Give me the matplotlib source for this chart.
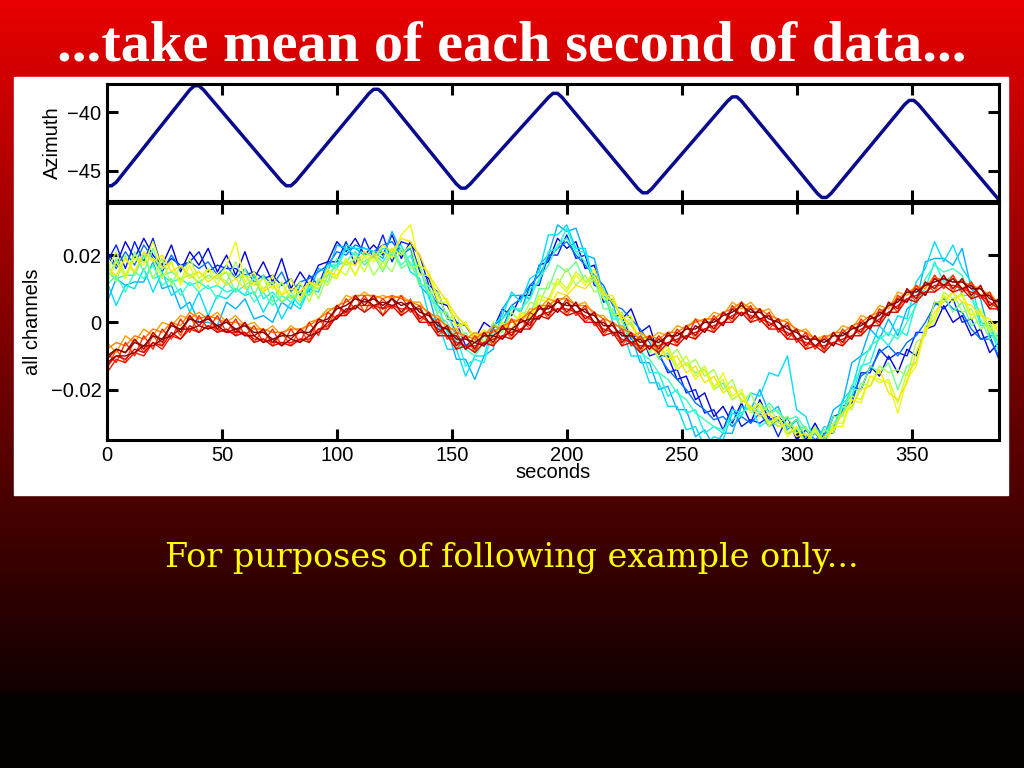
import numpy as np
import matplotlib
matplotlib.use('Agg')
import matplotlib.pyplot as plt
from matplotlib.colors import LinearSegmentedColormap

# azimuth sweep (degrees) at its turning points
az_t = [0, 2, 4,
        36, 38, 40, 42,
        76, 78, 80, 82,
        114, 116, 118, 120,
        152, 154, 156, 158,
        192, 194, 196, 198,
        231, 233, 235, 237,
        270, 272, 274, 276,
        309, 311, 313, 315,
        347, 349, 351, 353,
        388]
az_v = [-46.3, -46.3, -46.0,
        -38.1, -37.75, -37.75, -38.1,
        -45.95, -46.3, -46.3, -45.95,
        -38.4, -38.05, -38.05, -38.4,
        -46.15, -46.5, -46.5, -46.15,
        -38.75, -38.4, -38.4, -38.75,
        -46.55, -46.9, -46.9, -46.55,
        -39.05, -38.7, -38.7, -39.05,
        -46.95, -47.3, -47.3, -46.95,
        -39.35, -39.0, -39.0, -39.35,
        -47.5]

# channel time base: one sample every 4 s, 0..388
t_ch = np.arange(0, 389, 4)

# channel values in units of 1e-3, blue .. yellow group
ch_a1 = [21, 17, 24, 19, 25, 20, 17, 23, 15, 21,
         17, 22, 15, 20, 14, 21, 13, 18, 12, 19,
         10, 15, 11, 17, 18, 24, 21, 25, 20, 23,
         20, 26, 19, 24, 15, 13, 6, 5, 0, -1,
         -5, 0, -2, 4, 2, 8, 8, 17, 18, 25,
         22, 24, 16, 17, 6, 7, 1, 4, -3, -1,
         -10, -10, -17, -16, -23, -21, -28, -25, -30, -24,
         -30, -23, -29, -28, -31, -29, -35, -30, -35, -28,
         -27, -19, -20, -13, -16, -10, -15, -8, -10, -2,
         -1, 5, 0, 2, -4, -2, -9, -6]
ch_a2 = [18, 23, 16, 24, 18, 25, 16, 19, 17, 18,
         21, 15, 17, 16, 16, 14, 15, 13, 14, 11,
         13, 8, 14, 11, 18, 18, 24, 17, 25, 19,
         26, 18, 24, 23, 20, 11, 9, 1, 0, -7,
         -5, -7, -1, -2, 5, 3, 11, 11, 20, 20,
         26, 19, 20, 11, 10, 2, 2, -5, -3, -10,
         -9, -15, -14, -21, -20, -27, -26, -32, -25, -31,
         -29, -30, -28, -34, -28, -35, -32, -35, -33, -33,
         -25, -24, -15, -15, -8, -11, -9, -10, -3, -3,
         6, 4, 7, 0, 1, -5, -4, -11]
ch_a3 = [20, 16, 21, 17, 23, 19, 15, 20, 16, 18,
         16, 18, 14, 17, 13, 16, 12, 14, 11, 15,
         9, 12, 13, 15, 17, 21, 20, 23, 22, 21,
         23, 24, 20, 22, 16, 10, 5, 2, -3, -4,
         -8, -4, -1, 1, 5, 7, 11, 14, 19, 22,
         24, 20, 17, 14, 11, 5, 4, 1, -2, -6,
         -10, -14, -17, -20, -24, -26, -29, -28, -31, -28,
         -30, -27, -31, -29, -33, -32, -35, -33, -36, -31,
         -26, -23, -16, -14, -9, -7, -10, -6, -4, 0,
         5, 7, 4, 3, -2, -5, -5, -10]
ch_a4 = [6, 13, 11, 12, 12, 18, 10, 11, 4, 6,
         0, 0, -1, 6, 4, 7, 1, 2, 0, 6,
         4, 11, 9, 16, 15, 23, 22, 22, 20, 21,
         19, 27, 21, 22, 11, 8, -2, -2, -11, -11,
         -17, -10, -8, 4, 8, 8, 7, 17, 20, 29,
         27, 28, 20, 19, 8, 6, -4, -4, -12, -12,
         -20, -19, -26, -26, -34, -32, -37, -33, -33, -25,
         -26, -20, -27, -25, -32, -29, -36, -31, -34, -26,
         -24, -12, -10, -2, -5, 1, -4, 4, 6, 18,
         19, 19, 17, 22, 10, 7, -4, -4]
ch_a5 = [12, 5, 11, 10, 16, 9, 15, 8, 10, 3,
         9, 2, 8, 7, 10, 8, 9, 3, 8, 1,
         6, 4, 10, 9, 17, 17, 23, 22, 22, 21,
         21, 20, 22, 15, 13, 2, 0, -8, -8, -16,
         -10, -10, -1, 2, 9, 6, 13, 15, 26, 26,
         29, 22, 22, 12, 10, 0, -2, -10, -10, -18,
         -18, -25, -25, -32, -31, -37, -34, -35, -27, -28,
         -21, -22, -15, -16, -10, -26, -28, -36, -31, -32,
         -23, -20, -10, -8, -1, -4, 2, 1, 12, 16,
         24, 18, 23, 16, 12, 0, -1, -7]
ch_a6 = [15, 13, 14, 14, 20, 13, 14, 12, 13, 11,
         12, 10, 11, 9, 10, 8, 14, 7, 9, 6,
         8, 5, 11, 10, 17, 16, 22, 20, 21, 19,
         22, 21, 23, 17, 17, 7, 5, -3, -4, -13,
         -11, -12, -2, -3, 5, 3, 10, 12, 21, 22,
         28, 21, 21, 12, 10, 1, 1, -7, -7, -15,
         -15, -22, -20, -27, -26, -33, -31, -33, -26, -27,
         -25, -31, -29, -31, -30, -32, -31, -37, -32, -32,
         -24, -22, -13, -12, -4, -7, -2, -4, 6, 10,
         18, 12, 14, 8, 8, -1, -1, -9]
ch_a7 = [11, 14, 9, 15, 13, 17, 11, 13, 8, 12,
         9, 11, 7, 12, 9, 11, 6, 9, 5, 8,
         6, 9, 8, 12, 14, 17, 18, 21, 17, 20,
         18, 22, 17, 20, 12, 9, 2, 0, -6, -8,
         -10, -6, -4, 1, 4, 4, 7, 13, 17, 23,
         25, 21, 18, 13, 7, 3, -2, -4, -9, -11,
         -15, -17, -21, -23, -27, -29, -31, -32, -29, -27,
         -25, -27, -24, -27, -29, -28, -32, -33, -35, -30,
         -27, -19, -14, -7, -5, -3, -5, 0, 5, 13,
         17, 15, 16, 14, 7, 3, -3, -5]
ch_a8 = [12, 19, 13, 21, 15, 22, 14, 15, 13, 14,
         12, 14, 13, 15, 9, 16, 8, 14, 6, 12,
         7, 9, 8, 13, 12, 19, 17, 19, 18, 20,
         15, 21, 16, 18, 11, 11, 3, 3, -5, -3,
         -9, -4, -6, -1, -3, 3, 2, 10, 10, 17,
         15, 18, 12, 13, 4, 4, -2, 0, -6, -5,
         -11, -9, -14, -12, -15, -14, -20, -18, -23, -21,
         -26, -24, -27, -26, -31, -29, -34, -32, -35, -28,
         -28, -20, -20, -13, -15, -12, -20, -13, -12, -2,
         1, 8, 3, 6, -1, 1, -5, -3]
ch_a9 = [18, 12, 20, 14, 21, 13, 19, 11, 17, 14,
         15, 13, 14, 12, 18, 11, 13, 10, 12, 6,
         9, 6, 12, 7, 14, 13, 19, 14, 20, 14,
         18, 15, 22, 16, 17, 9, 9, 1, 2, -5,
         -3, -6, 0, -3, 3, 0, 6, 5, 12, 11,
         16, 11, 14, 9, 10, 2, 3, -4, -3, -9,
         -6, -11, -8, -13, -11, -16, -14, -20, -17, -24,
         -21, -27, -25, -30, -28, -33, -31, -37, -32, -33,
         -25, -26, -18, -19, -13, -15, -14, -16, -6, -4,
         6, 6, 9, 3, 4, -2, 0, -6]
ch_a10 = [15, 21, 14, 20, 18, 19, 13, 18, 12, 19,
          13, 16, 14, 15, 13, 14, 11, 13, 10, 12,
          7, 12, 6, 13, 11, 16, 14, 20, 15, 21,
          16, 22, 20, 23, 14, 14, 6, 6, -2, 0,
          -6, -3, -5, 0, -2, 3, 1, 8, 7, 13,
          10, 15, 12, 14, 7, 7, 0, 1, -6, -4,
          -9, -7, -13, -10, -16, -13, -19, -17, -23, -21,
          -27, -25, -31, -28, -33, -31, -36, -31, -37, -30,
          -30, -22, -23, -16, -18, -17, -24, -15, -12, -1,
          1, 9, 7, 8, 1, 3, -3, -1]
ch_a11 = [12, 18, 13, 19, 17, 24, 16, 18, 11, 17,
          10, 16, 11, 17, 24, 12, 15, 9, 14, 8,
          13, 7, 12, 10, 16, 13, 19, 14, 20, 18,
          21, 19, 26, 29, 17, 15, 7, 7, -1, 0,
          -5, -2, -7, 0, -2, 3, 1, 7, 6, 12,
          9, 14, 11, 16, 8, 8, 1, 2, -8, -7,
          -10, -8, -14, -12, -17, -14, -20, -15, -22, -20,
          -26, -24, -30, -28, -34, -31, -37, -32, -37, -31,
          -31, -23, -24, -16, -17, -18, -27, -17, -13, -2,
          0, 8, 6, 9, 2, 4, -2, 0]
ch_a12 = [16, 14, 19, 15, 21, 18, 20, 15, 17, 13,
          15, 12, 14, 11, 13, 10, 12, 9, 11, 8,
          10, 9, 12, 11, 15, 14, 18, 17, 21, 19,
          23, 21, 25, 24, 20, 14, 10, 6, 2, -1,
          -4, -3, -5, -1, -2, 2, 1, 5, 4, 9,
          8, 11, 10, 13, 9, 6, 2, -1, -5, -8,
          -7, -11, -10, -15, -13, -18, -16, -21, -19, -23,
          -25, -28, -27, -31, -30, -34, -33, -36, -34, -32,
          -27, -25, -20, -19, -14, -21, -23, -18, -9, -3,
          3, 6, 9, 6, 5, 2, 1, -3]

# orange .. dark red group
ch_b1 = [-6, -9, -4, -6, -2, -4, 0, -1, 2, 1,
         3, 1, 3, 0, 2, -1, 0, -3, -1, -4,
         -1, -3, 0, 1, 4, 4, 8, 7, 9, 7,
         8, 7, 8, 6, 6, 2, 2, -2, -2, -5,
         -3, -4, -1, -2, 1, 0, 4, 4, 7, 6,
         8, 5, 6, 2, 2, -1, -1, -4, -3, -5,
         -3, -4, -1, -2, 1, 0, 3, 2, 6, 4,
         6, 3, 4, 0, 1, -3, -2, -5, -4, -4,
         -1, -2, 2, 1, 5, 4, 9, 8, 11, 10,
         14, 11, 14, 10, 12, 8, 9, 5]
ch_b2 = [-8, -6, -7, -4, -5, -2, -3, 0, -1, 3,
         1, 2, 1, 0, 0, -1, -2, -2, -3, -3,
         -2, -2, -1, 1, 3, 5, 6, 8, 8, 8,
         7, 8, 7, 6, 5, 3, 1, -1, -3, -4,
         -5, -3, -3, -1, 0, 1, 3, 5, 5, 7,
         7, 5, 5, 3, 1, 0, -2, -3, -5, -4,
         -5, -3, -3, -1, 0, 1, 1, 3, 4, 6,
         4, 4, 2, 1, 0, -2, -3, -5, -5, -3,
         -3, -1, 0, 2, 3, 5, 7, 9, 10, 11,
         13, 13, 12, 12, 11, 10, 8, 6]
ch_b3 = [-14, -8, -12, -5, -9, -4, -7, 0, -4, 2,
         -3, 2, -3, 1, -4, 0, -6, -2, -7, -3,
         -7, -2, -6, 1, -2, 5, 2, 8, 3, 8,
         2, 8, 2, 7, 0, 3, -4, -1, -8, -4,
         -9, -3, -7, -1, -5, 1, -2, 5, 1, 7,
         2, 6, 0, 3, -4, 0, -7, -3, -9, -4,
         -9, -3, -7, -1, -5, 1, -3, 3, 0, 6,
         0, 4, -2, 1, -5, -2, -8, -4, -9, -3,
         -7, -1, -4, 2, -1, 6, 3, 10, 6, 12,
         9, 14, 9, 13, 7, 11, 4, 7]
ch_b4 = [-9, -12, -6, -10, -4, -8, -2, -5, 1, -3,
         2, -2, 2, -3, 1, -4, -1, -6, -2, -7,
         -2, -6, 0, -4, 3, 1, 7, 4, 8, 4,
         7, 4, 8, 3, 5, -1, 1, -5, -3, -8,
         -4, -7, -2, -5, 1, -3, 3, 1, 6, 3,
         7, 2, 5, -1, 1, -4, -2, -7, -4, -8,
         -4, -7, -2, -5, 1, -3, 2, -1, 5, 2,
         5, 0, 3, -3, 0, -6, -3, -8, -4, -7,
         -2, -5, 1, -2, 4, 2, 8, 6, 11, 8,
         14, 10, 14, 9, 12, 7, 9, 3]
ch_b5 = [-15, -11, -12, -9, -10, -6, -8, -4, -5, -2,
         -3, -1, -2, -3, -3, -3, -5, -5, -6, -6,
         -6, -5, -5, -2, -1, 2, 3, 5, 5, 5,
         4, 5, 4, 4, 2, 0, -2, -4, -6, -7,
         -7, -6, -5, -4, -3, -2, 0, 2, 3, 4,
         4, 3, 2, 0, -2, -3, -5, -6, -7, -7,
         -7, -6, -5, -4, -3, -2, -1, 0, 2, 3,
         2, 1, 0, -2, -3, -5, -6, -7, -7, -6,
         -5, -4, -2, -1, 1, 3, 5, 7, 8, 9,
         11, 11, 11, 10, 9, 8, 6, 4]
ch_b6 = [-13, -10, -11, -8, -9, -6, -7, -3, -5, -1,
         -3, -1, -3, -2, -4, -3, -6, -5, -7, -6,
         -7, -5, -6, -2, -2, 2, 2, 5, 3, 5,
         2, 5, 2, 4, 0, 0, -4, -4, -8, -7,
         -9, -6, -7, -4, -5, -2, -2, 2, 1, 4,
         2, 3, 0, 0, -4, -3, -7, -6, -9, -7,
         -9, -6, -7, -4, -5, -2, -3, 0, 0, 3,
         0, 1, -2, -2, -5, -5, -8, -7, -9, -6,
         -7, -4, -4, -1, -1, 3, 3, 7, 6, 9,
         9, 11, 9, 10, 7, 8, 4, 4]
ch_b7 = [-11, -8, -9, -5, -8, -3, -6, 0, -3, 2,
         -1, 2, -2, 1, -3, 0, -4, -2, -6, -3,
         -5, -2, -4, 1, 0, 5, 3, 8, 5, 8,
         4, 7, 3, 6, 1, 3, -3, -1, -7, -4,
         -8, -3, -6, -1, -4, 1, -1, 5, 2, 7,
         3, 6, 1, 3, -3, 0, -6, -3, -8, -4,
         -8, -3, -6, -1, -4, 1, -2, 3, 1, 6,
         1, 4, -1, 1, -4, -2, -7, -4, -8, -3,
         -6, -1, -3, 2, 0, 6, 4, 10, 7, 12,
         10, 14, 10, 13, 8, 11, 5, 7]
ch_b8 = [-12, -10, -10, -9, -7, -7, -5, -4, -2, -2,
         -1, -2, -1, -3, -2, -4, -4, -6, -5, -7,
         -5, -6, -4, -3, 0, 1, 4, 4, 7, 5,
         6, 5, 6, 4, 4, 0, 0, -4, -4, -8,
         -6, -7, -4, -5, -2, -3, 1, 1, 5, 3,
         6, 3, 4, 0, 0, -3, -3, -6, -5, -8,
         -5, -7, -3, -5, -1, -3, 1, -1, 4, 2,
         4, 1, 2, -2, -1, -5, -4, -7, -5, -7,
         -3, -5, 0, -2, 3, 2, 7, 6, 10, 8,
         13, 11, 13, 10, 11, 8, 8, 4]
ch_b9 = [-10, -8, -9, -6, -7, -4, -5, -1, -2, 1,
         0, 1, -1, 0, -2, -1, -3, -3, -5, -4,
         -4, -3, -3, 0, 1, 4, 5, 7, 6, 7,
         5, 7, 5, 6, 3, 2, -1, -2, -5, -5,
         -6, -4, -4, -2, -2, 0, 1, 4, 4, 6,
         5, 5, 3, 2, -1, -1, -4, -4, -6, -5,
         -6, -4, -4, -2, -2, 0, 0, 2, 3, 5,
         3, 3, 1, 0, -2, -3, -5, -5, -6, -4,
         -4, -2, -1, 1, 2, 5, 6, 9, 9, 11,
         12, 13, 12, 12, 10, 10, 7, 6]

channels = [ch_a1, ch_a2, ch_a3, ch_a4, ch_a5, ch_a6, ch_a7, ch_a8, ch_a9,
            ch_a10, ch_a11, ch_a12,
            ch_b1, ch_b2, ch_b3, ch_b4, ch_b5, ch_b6, ch_b7, ch_b8, ch_b9]
jet_pos = [0.08, 0.16, 0.24, 0.3, 0.34, 0.37, 0.42, 0.48, 0.55,
           0.6, 0.64, 0.67,
           0.74, 0.78, 0.82, 0.86, 0.89, 0.92, 0.95, 0.98, 1.0]

plt.rcParams['font.family'] = ['Liberation Sans', 'DejaVu Sans']

fig = plt.figure(figsize=(10.24, 7.68), dpi=100)

# slide background: red fading to black
bg = fig.add_axes([0, 0, 1, 1])
bg_cmap = LinearSegmentedColormap.from_list(
    'slide', [(0.0, (0.91, 0.0, 0.0)), (0.64, (0.3, 0.0, 0.0)),
              (0.9, (0.07, 0.0, 0.0)), (0.905, (0.02, 0.0, 0.0)),
              (1.0, (0.02, 0.0, 0.0))])
bg.imshow(np.linspace(0, 1, 768).reshape(-1, 1), aspect='auto', cmap=bg_cmap,
          extent=[0, 1, 0, 1], origin='upper')
bg.add_patch(plt.Rectangle((14 / 1024, 1 - 495 / 768), 994 / 1024, 418 / 768,
                           color='white', zorder=2))
bg.set_xlim(0, 1)
bg.set_ylim(0, 1)
bg.axis('off')

fig.text(0.5, 0.94, '...take mean of each second of data...', color='white',
         fontsize=42, weight='bold', family='Liberation Serif',
         ha='center', va='center')
fig.text(0.5, 0.273, 'For purposes of following example only...', color='#ffff00',
         fontsize=24, family='DejaVu Serif', ha='center', va='center')

ax1 = fig.add_axes([0.1045, 0.7383, 0.871, 0.1523])
ax2 = fig.add_axes([0.1045, 0.4271, 0.871, 0.3086])

ax1.plot(az_t, az_v, color='#0a0a8c', lw=2.5, solid_joinstyle='round')
ax1.set_xlim(0, 388)
ax1.set_ylim(-47.6, -37.6)
ax1.set_yticks([-45, -40])
ax1.set_xticks([50, 100, 150, 200, 250, 300, 350])
ax1.set_xticklabels([])
ax1.set_ylabel('Azimuth', fontsize=14.5, labelpad=4)

for vals, p in zip(channels, jet_pos):
    ax2.plot(t_ch, np.array(vals) / 1000.0, color=plt.cm.jet(p), lw=1.0)
ax2.set_xlim(0, 388)
ax2.set_ylim(-0.035, 0.0355)
ax2.set_yticks([-0.02, 0, 0.02])
ax2.set_yticklabels(['\u22120.02', '0', '0.02'])
ax2.set_xticks([0, 50, 100, 150, 200, 250, 300, 350])
ax2.set_xlabel('seconds', fontsize=14.5, labelpad=-1)
ax2.set_ylabel('all channels', fontsize=14.5, labelpad=6)

for ax in (ax1, ax2):
    ax.set_facecolor('white')
    for s in ax.spines.values():
        s.set_linewidth(2.2)
    ax.tick_params(direction='in', length=8, width=2.2, top=True, right=True,
                   labelsize=14.5, pad=4)

fig.savefig('out.png', dpi=100)
